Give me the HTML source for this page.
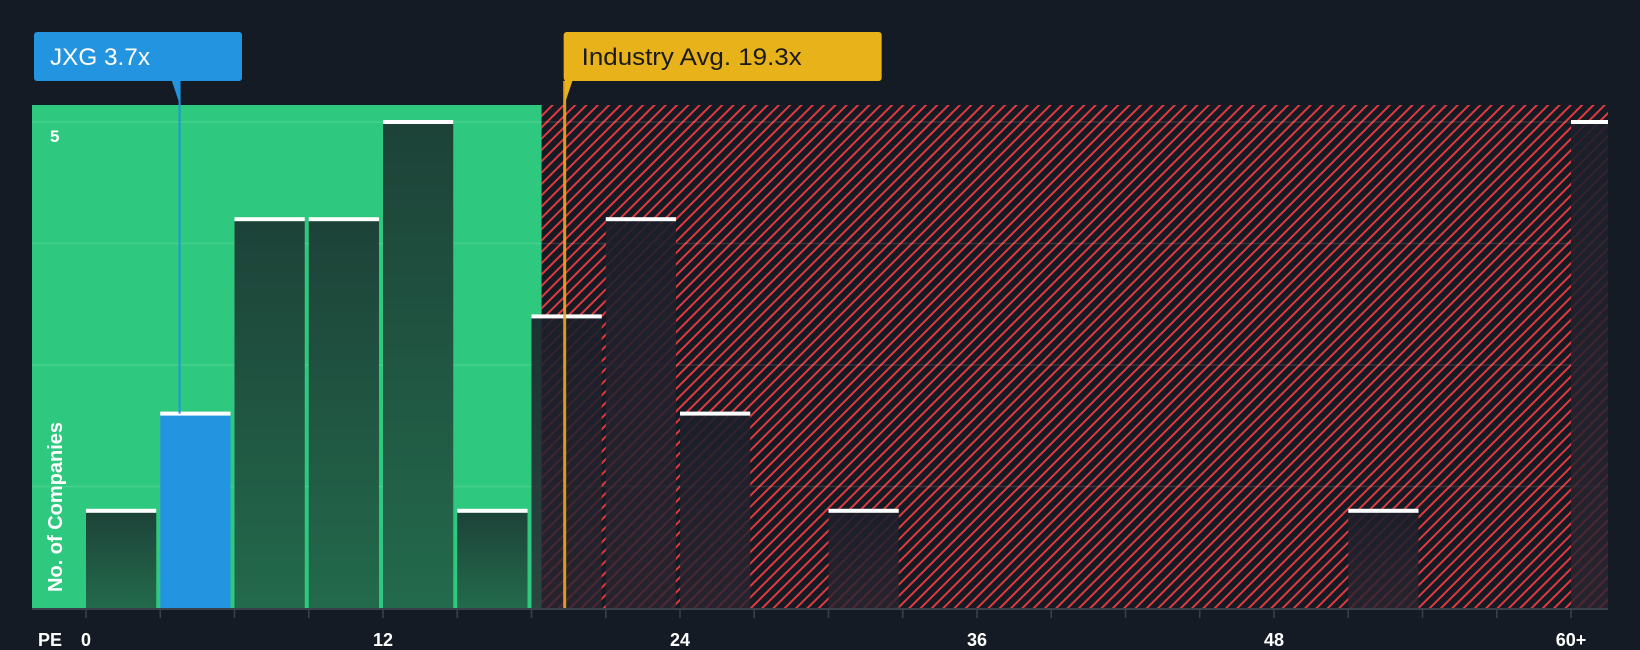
<!DOCTYPE html>
<html><head><meta charset="utf-8"><style>
html,body{margin:0;padding:0;background:#151b24;width:1640px;height:650px;overflow:hidden}
text{font-family:"Liberation Sans",sans-serif}
</style></head><body>
<svg id="chart" width="1640" height="650" viewBox="0 0 1640 650" xmlns="http://www.w3.org/2000/svg">
<defs>
<pattern id="hatch" patternUnits="userSpaceOnUse" width="8" height="8" patternTransform="rotate(45)">
<rect width="8" height="8" fill="#151b24"/><rect x="0" y="0" width="2" height="8" fill="#e0393e"/>
</pattern>
<linearGradient id="barg" x1="0" y1="0" x2="0" y2="1"><stop offset="0" stop-color="#1d4238"/><stop offset="1" stop-color="#236a4c"/></linearGradient>
<linearGradient id="barr" x1="0" y1="0" x2="0" y2="1"><stop offset="0" stop-color="#1b1f2a" stop-opacity="0.9"/><stop offset="1" stop-color="#2a2530" stop-opacity="0.8"/></linearGradient>
</defs>
<g id="g"></g>
</svg>
<script>
const binStarts=[0,3,6,9,12,15,18,21,24,27,30,33,36,39,42,45,48,51,54,57,60];
const counts=[1,2,4,4,5,1,3,4,2,0,1,0,0,0,0,0,0,1,0,0,5];
const xTicks=[0,12,24,36,48,60];
const xTickLabels=["0","12","24","36","48","60+"];
const companyPE=3.7;
const industryPE=19.3;
const yMax=5;

const L=32,R=1608,T=105,B=608,X0=86,PX=24.75;
const xs=v=>X0+v*PX;
const ys=v=>B-v*(B-122)/yMax;
const ns='http://www.w3.org/2000/svg';
const g=document.getElementById('g');
function mk(t,a){const e=document.createElementNS(ns,t);for(const k in a)e.setAttribute(k,a[k]);g.appendChild(e);return e;}

const gx=xs(industryPE)-22;
let e=mk('rect',{x:L,y:T,width:gx-L,height:B-T,fill:'#2ec97e'});


e=mk('rect',{x:gx,y:T,width:R-gx,height:B-T,fill:'url(#hatch)'});


for(let i=1;i<=4;i++){
 const v=yMax*i/4;
 e=mk('line',{x1:L,x2:R,y1:ys(v),y2:ys(v),stroke:'rgba(255,255,255,0.12)','stroke-width':1.5});
 
 
}
binStarts.forEach((s,i)=>{
 const c=counts[i]; if(!c) return;
 const x1=xs(s), w=(s>=60?(R-xs(s)):3*PX-4);
 const inGreen=x1+w<=gx+2;
 const isComp=companyPE>=s&&companyPE<s+3;
 e=mk('rect',{x:x1,y:ys(c),width:w,height:B-ys(c),fill:isComp?'#2394df':(inGreen?'url(#barg)':'url(#barr)')});
 
 
 e=mk('rect',{x:x1,y:ys(c)-2,width:w,height:4,fill:'#fff'});
 
 
});
e=mk('line',{x1:L,x2:R,y1:B+1,y2:B+1,stroke:'#3a414c','stroke-width':2});


for(let v=0;v<=60;v+=3){
 e=mk('line',{x1:xs(v),x2:xs(v),y1:B,y2:B+10,stroke:'#3a414c','stroke-width':1.5});
 
 
}
xTicks.forEach((v,i)=>{
 e=mk('text',{x:xs(v),y:646,'text-anchor':'middle',fill:'#fff','font-size':18,'font-weight':'bold'});
 e.textContent=xTickLabels[i];
 
 
});
e=mk('text',{x:38,y:646,fill:'#fff','font-size':18,'font-weight':'bold'});e.textContent='PE';


e=mk('text',{x:50,y:ys(5)+20,fill:'#fff','font-size':17,'font-weight':'bold'});e.textContent='5';


e=mk('text',{x:0,y:0,fill:'#fff','font-size':20,'font-weight':'bold',transform:'translate(62,592) rotate(-90)'});e.textContent='No. of Companies';



const cx=xs(companyPE)+2;
e=mk('line',{x1:cx,x2:cx,y1:81,y2:ys(2),stroke:'#2394df','stroke-width':2});


e=mk('path',{d:`M${cx-8},80 L${cx},104 L${cx},80 Z`,fill:'#2394df'});


e=mk('rect',{x:34,y:32,width:208,height:49,rx:3,fill:'#2394df'});


e=mk('text',{x:50,y:65,fill:'#fff','font-size':24,transform:'scale(1,1)','textLength':100,'lengthAdjust':'spacingAndGlyphs'});e.textContent='JXG '+companyPE+'x';



const ix=xs(industryPE)+1;
e=mk('line',{x1:ix,x2:ix,y1:81,y2:B,stroke:'#f0a81a','stroke-width':3,'stroke-opacity':0.9});


e=mk('path',{d:`M${ix},80 L${ix},104 L${ix+8},80 Z`,fill:'#e8b31a'});


e=mk('rect',{x:ix-1,y:32,width:318,height:49,rx:3,fill:'#e8b31a'});


e=mk('text',{x:ix+17,y:65,fill:'#1a1a1a','font-size':24,'textLength':220,'lengthAdjust':'spacingAndGlyphs'});e.textContent='Industry Avg. '+industryPE+'x';


</script>
</body></html>
